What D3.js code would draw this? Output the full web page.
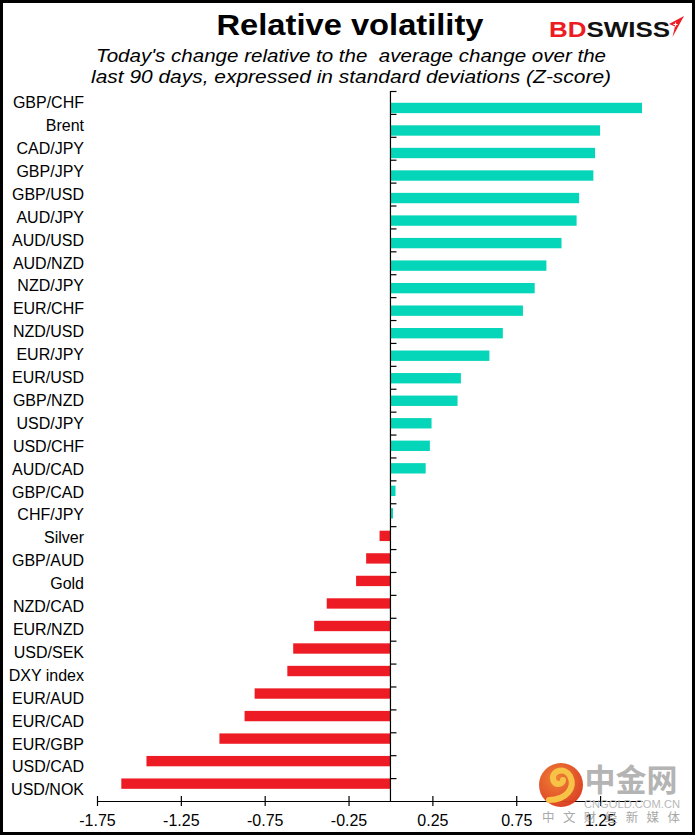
<!DOCTYPE html>
<html>
<head>
<meta charset="utf-8">
<script src="https://cdn.jsdelivr.net/npm/d3@7"></script>
<style>
  body { margin: 0; background: #fff; }
  svg { display: block; font-family: "Liberation Sans", Arial, sans-serif; }
</style>
</head>
<body>
<script>
const categories = [
  "GBP/CHF", "Brent", "CAD/JPY", "GBP/JPY", "GBP/USD", "AUD/JPY", "AUD/USD",
  "AUD/NZD", "NZD/JPY", "EUR/CHF", "NZD/USD", "EUR/JPY", "EUR/USD", "GBP/NZD",
  "USD/JPY", "USD/CHF", "AUD/CAD", "GBP/CAD", "CHF/JPY", "Silver", "GBP/AUD",
  "Gold", "NZD/CAD", "EUR/NZD", "USD/SEK", "DXY index", "EUR/AUD", "EUR/CAD",
  "EUR/GBP", "USD/CAD", "USD/NOK"
];
const zScores = [
  1.50, 1.25, 1.22, 1.21, 1.125, 1.11, 1.02,
  0.93, 0.86, 0.79, 0.67, 0.59, 0.42, 0.40,
  0.245, 0.235, 0.21, 0.03, 0.015, -0.065, -0.145,
  -0.205, -0.38, -0.455, -0.58, -0.615, -0.81, -0.87,
  -1.02, -1.455, -1.605
];
const xTicks = [-1.75, -1.25, -0.75, -0.25, 0.25, 0.75, 1.25];
const xDomain = [-1.75, 1.5];

const width = 695;
const height = 835;

const data = categories.map((c, i) => ({ name: c, value: zScores[i] }));

const svg = d3.select("body")
  .append("svg")
  .attr("width", width)
  .attr("height", height);

const x = d3.scaleLinear().domain(xDomain).range([97, 642]);
// category slots (ticks + labels) and bar positions
const yCat = d3.scaleBand().domain(categories).range([91, 801]);
const yBar = d3.scaleBand().domain(categories).range([96.7, 794.9])
  .paddingInner(0.54).paddingOuter(0.27);

// bars
svg.append("g")
  .selectAll("rect")
  .data(data)
  .join("rect")
  .attr("x", d => x(Math.min(0, d.value)))
  .attr("width", d => Math.abs(x(d.value) - x(0)))
  .attr("y", d => yBar(d.name))
  .attr("height", yBar.bandwidth())
  .attr("fill", d => (d.value >= 0 ? "#05D5B8" : "#ED1C24"));

// zero axis with ticks at category boundaries
const yAxis = svg.append("g").attr("stroke", "#000");
yAxis.append("line")
  .attr("x1", x(0)).attr("x2", x(0))
  .attr("y1", yCat.range()[0]).attr("y2", yCat.range()[1])
  .attr("stroke-width", 1.2);
yAxis.selectAll("line.tick")
  .data(categories)
  .join("line")
  .attr("class", "tick")
  .attr("x1", x(0)).attr("x2", x(0) + 6)
  .attr("y1", d => yCat(d) + 0.5)
  .attr("y2", d => yCat(d) + 0.5)
  .attr("stroke-width", 1.2);

// category labels
svg.append("g")
  .attr("font-size", 16)
  .attr("text-anchor", "end")
  .attr("fill", "#000")
  .selectAll("text")
  .data(categories)
  .join("text")
  .attr("x", 84)
  .attr("y", d => yCat(d) + yCat.bandwidth() / 2)
  .attr("dy", "0.36em")
  .text(d => d);

// x axis
const xAxis = svg.append("g")
  .attr("transform", "translate(0,801)")
  .call(d3.axisBottom(x).tickValues(xTicks).tickSize(5).tickSizeOuter(0));
xAxis.select(".domain").attr("stroke", "#000").attr("stroke-width", 1.2);
xAxis.selectAll(".tick line")
  .attr("y1", -5).attr("y2", 5)
  .attr("stroke", "#000").attr("stroke-width", 1.2);
xAxis.selectAll(".tick text")
  .attr("y", 19)
  .attr("dy", "0.36em")
  .attr("font-size", 16)
  .attr("font-family", "'Liberation Sans', Arial, sans-serif")
  .attr("fill", "#000")
  .text(d => d3.format(".2f")(d).replace("−", "-"));

// title and subtitle
svg.append("text")
  .attr("x", 350).attr("y", 35)
  .attr("text-anchor", "middle")
  .attr("font-size", 30).attr("font-weight", "bold")
  .attr("textLength", 267).attr("lengthAdjust", "spacingAndGlyphs")
  .text("Relative volatility");

const subtitle = [
  "Today's change relative to the  average change over the",
  "last 90 days, expressed in standard deviations (Z-score)"
];
const subtitleWidths = [510, 520];
svg.append("g")
  .attr("font-size", 18.5).attr("font-style", "italic")
  .attr("text-anchor", "middle")
  .selectAll("text")
  .data(subtitle)
  .join("text")
  .attr("x", 351)
  .attr("y", (d, i) => 62 + i * 20.5)
  .attr("textLength", (d, i) => subtitleWidths[i])
  .attr("lengthAdjust", "spacingAndGlyphs")
  .style("white-space", "pre")
  .text(d => d);

// BDSWISS logo
const logo = svg.append("g").attr("font-weight", "bold").attr("font-size", 22.5);
logo.append("text")
  .attr("x", 549).attr("y", 37)
  .attr("textLength", 121).attr("lengthAdjust", "spacingAndGlyphs")
  .html('<tspan fill="#ED1C24">BD</tspan><tspan fill="#111">SWISS</tspan>');
logo.append("path")
  .attr("d", "M684,16 L669,24 L675,26.5 L672.5,37 Z")
  .attr("fill", "#ED1C24");
logo.append("path")
  .attr("d", "M673.5,24.5 h4 M675.5,22.5 v4")
  .attr("stroke", "#fff").attr("stroke-width", 1.2);

// watermark (bottom right)
const wm = svg.append("g");
const grad = svg.append("defs").append("radialGradient")
  .attr("id", "wmGrad").attr("cx", "40%").attr("cy", "35%").attr("r", "70%");
grad.append("stop").attr("offset", "0%").attr("stop-color", "#f07a2a");
grad.append("stop").attr("offset", "100%").attr("stop-color", "#d9361a");
wm.append("circle")
  .attr("cx", 561).attr("cy", 785).attr("r", 22)
  .attr("fill", "url(#wmGrad)").attr("opacity", 0.95);
wm.append("path")
  .attr("d", "M549,800 C566,800 576,788 570,776 C565,767 552,770 553,779 C554,786 563,785 563,780")
  .attr("fill", "none").attr("stroke", "#f6c347").attr("stroke-width", 6)
  .attr("stroke-linecap", "round");
wm.append("text")
  .attr("x", 631).attr("y", 791)
  .attr("text-anchor", "middle")
  .attr("font-family", "'Noto Sans CJK SC', sans-serif")
  .attr("font-weight", "bold").attr("font-size", 31)
  .attr("fill", "#a8a8a8").attr("opacity", 0.85)
  .text("中金网");
wm.append("text")
  .attr("x", 632).attr("y", 808)
  .attr("text-anchor", "middle")
  .attr("font-size", 10).attr("fill", "#b8b8b8")
  .attr("textLength", 96).attr("lengthAdjust", "spacingAndGlyphs")
  .text("CNGOLD.COM.CN");
wm.append("text")
  .attr("x", 611).attr("y", 822)
  .attr("text-anchor", "middle")
  .attr("font-family", "'Noto Sans CJK SC', sans-serif")
  .attr("font-size", 12.5).attr("fill", "#a0a0a0").attr("opacity", 0.9)
  .attr("textLength", 138).attr("lengthAdjust", "spacing")
  .text("中文财经新媒体");

// frame
svg.append("rect")
  .attr("x", 1.5).attr("y", 1.5)
  .attr("width", width - 3).attr("height", height - 3)
  .attr("fill", "none").attr("stroke", "#000").attr("stroke-width", 3);
</script>
</body>
</html>
